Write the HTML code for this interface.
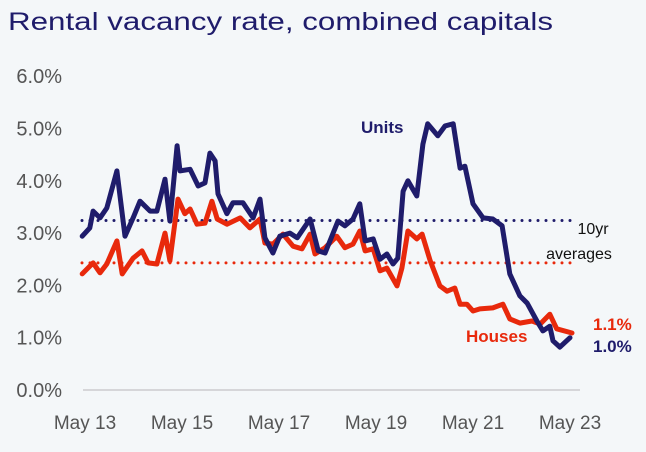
<!DOCTYPE html>
<html><head><meta charset="utf-8">
<style>
html,body{margin:0;padding:0;background:#f4f7f9;}
body{width:646px;height:447px;overflow:hidden;font-family:"Liberation Sans",sans-serif;}
</style></head>
<body>
<svg id="chart" width="646" height="447" xmlns="http://www.w3.org/2000/svg">
<rect width="646" height="447" fill="#f4f7f9"/>
<text x="8" y="30" font-size="25" textLength="545" lengthAdjust="spacingAndGlyphs" fill="#1f1c6b" font-family="Liberation Sans, sans-serif">Rental vacancy rate, combined capitals</text>
<g id="grid"></g>
<g id="series"></g>
<g id="labels"></g>
</svg>
<script>
const xTickLabels=["May 13","May 15","May 17","May 19","May 21","May 23"];
const yTickLabels=["0.0%","1.0%","2.0%","3.0%","4.0%","5.0%","6.0%"];
const yTickValues=[0,1,2,3,4,5,6];
const unitsAvg=3.24;
const housesAvg=2.43;
// months since May 13
const unitsMonths=[-0.7,1.2,2.0,3.7,5.4,7.9,9.9,11.9,13.6,16.1,17.8,19.8,21.0,22.8,23.5,26.0,28.0,29.7,30.9,32.2,32.9,35.1,36.6,39.1,41.6,43.3,44.5,46.5,48.2,50.7,52.5,55.7,57.7,59.4,62.6,64.3,66.3,68.0,69.3,71.3,73.0,74.7,76.2,77.4,78.7,79.9,82.1,83.6,84.8,87.3,89.1,91.1,92.8,94.0,96.0,98.5,100.9,103.2,105.1,107.6,109.4,111.8,113.3,115.0,115.8,117.5,120.0];
const unitsValues=[2.94,3.1,3.42,3.29,3.48,4.19,2.94,3.29,3.61,3.42,3.42,4.03,3.23,4.67,4.19,4.22,3.9,3.96,4.53,4.38,3.75,3.37,3.58,3.58,3.29,3.65,2.91,2.62,2.94,3.0,2.91,3.27,2.66,2.62,3.23,3.14,3.27,3.56,2.85,2.89,2.5,2.6,2.41,2.52,3.8,4.0,3.71,4.7,5.09,4.86,5.05,5.09,4.24,4.28,3.56,3.29,3.27,3.14,2.22,1.8,1.66,1.32,1.13,1.22,0.94,0.82,1.0];
const housesMonths=[-0.7,2.0,3.7,5.4,7.9,9.2,11.9,14.1,15.6,17.8,19.8,21.0,23.0,24.7,26.0,27.7,29.7,31.4,32.7,35.1,38.4,40.8,43.3,44.5,46.5,49.0,51.5,53.7,55.7,56.9,59.4,62.3,64.3,66.3,68.0,69.3,71.3,73.0,74.7,77.2,78.4,79.9,82.1,83.4,85.4,87.8,89.6,91.5,92.8,94.5,96.0,97.7,100.9,103.4,105.1,107.6,110.6,112.6,115.0,116.7,120.5];
const housesValues=[2.22,2.43,2.24,2.41,2.85,2.22,2.52,2.66,2.43,2.41,3.0,2.47,3.65,3.37,3.46,3.17,3.19,3.61,3.27,3.17,3.29,3.1,3.27,2.81,2.79,2.98,2.75,2.7,2.98,2.6,2.72,2.94,2.72,2.79,3.04,2.66,2.7,2.28,2.33,1.99,2.33,3.04,2.89,2.98,2.47,1.99,1.89,1.95,1.64,1.64,1.51,1.55,1.57,1.64,1.36,1.28,1.32,1.26,1.45,1.17,1.09];

const NS="http://www.w3.org/2000/svg";
function xScale(m){return 85+m*97/24;}
function yScale(v){return 390-v*52.3;}
function mk(tag,attrs,parent){const e=document.createElementNS(NS,tag);for(const k in attrs)e.setAttribute(k,attrs[k]);parent.appendChild(e);return e;}
const grid=document.getElementById('grid'),series=document.getElementById('series'),labels=document.getElementById('labels');

yTickLabels.forEach((t,i)=>{
  const e=mk('text',{x:62,y:yScale(yTickValues[i])+7,'text-anchor':'end','font-size':20,fill:'#555'},labels);
  e.textContent=t;
  
  
});
xTickLabels.forEach((t,i)=>{
  const e=mk('text',{x:xScale(i*24),y:429,'text-anchor':'middle','font-size':19,fill:'#555'},labels);
  e.textContent=t;
  
  
});
const base=mk('line',{x1:83,x2:580,y1:yScale(0),y2:yScale(0),stroke:'#d6d6d9','stroke-width':2},grid);



const ua=mk('line',{x1:82,x2:572,y1:yScale(unitsAvg),y2:yScale(unitsAvg),stroke:'#1f1c6b','stroke-width':3,'stroke-dasharray':'0 8','stroke-linecap':'round'},grid);


const ha=mk('line',{x1:82,x2:572,y1:yScale(housesAvg),y2:yScale(housesAvg),stroke:'#e8290c','stroke-width':3,'stroke-dasharray':'0 8','stroke-linecap':'round'},grid);



function pts(ms,vs){return ms.map((m,i)=>xScale(m).toFixed(1)+','+yScale(vs[i]).toFixed(1)).join(' ');}
const hl=mk('polyline',{points:pts(housesMonths,housesValues),fill:'none',stroke:'#e8290c','stroke-width':5,'stroke-linejoin':'round','stroke-linecap':'round'},series);


const ul=mk('polyline',{points:pts(unitsMonths,unitsValues),fill:'none',stroke:'#1f1c6b','stroke-width':5,'stroke-linejoin':'round','stroke-linecap':'round'},series);



function txt(x,y,s,size,fill,weight,name,anchor){
  const e=mk('text',{x:x,y:y,'font-size':size,fill:fill,'font-weight':weight,'text-anchor':anchor||'start'},labels);
  e.textContent=s;
  
  
}
txt(361,133,'Units',17,'#1f1c6b','bold','units-label');
txt(466,342,'Houses',17,'#e8290c','bold','houses-label');
txt(593,234,'10yr',16,'#111','normal','avg-label-1','middle');
txt(579,259,'averages',16,'#111','normal','avg-label-2','middle');
txt(593,330,'1.1%',17,'#e8290c','bold','houses-latest-value');
txt(593,352,'1.0%',17,'#1f1c6b','bold','units-latest-value');
</script>
</body></html>
